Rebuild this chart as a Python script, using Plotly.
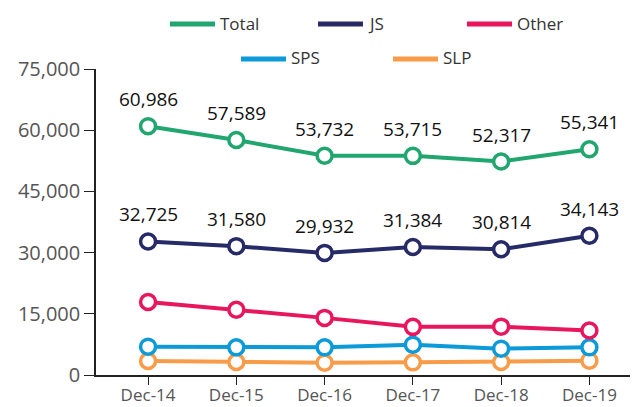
import plotly.graph_objects as go

# data
periods = ['Dec-14', 'Dec-15', 'Dec-16', 'Dec-17', 'Dec-18', 'Dec-19']
total = [60986, 57589, 53732, 53715, 52317, 55341]
js = [32725, 31580, 29932, 31384, 30814, 34143]
other = [17900, 16000, 14000, 11800, 11850, 10900]
sps = [6940, 6780, 6780, 7430, 6450, 6780]
slp = [3430, 3190, 3020, 3100, 3190, 3510]

series = [
    ('Total', total, '#21a66f'),
    ('JS', js, '#262a66'),
    ('Other', other, '#e8175d'),
    ('SPS', sps, '#0d9ad8'),
    ('SLP', slp, '#f89c4a'),
]

FONT = 'Open Sans'

fig = go.Figure()

# draw bottom series first so Total sits on top
for name, vals, color in reversed(series):
    fig.add_trace(go.Scatter(
        x=periods, y=vals, name=name, mode='lines+markers',
        line=dict(color=color, width=4),
        marker=dict(size=15, color='white', line=dict(color=color, width=3.5)),
        showlegend=False, hoverinfo='skip'))

# value labels for Total and JS
annotations = []
for vals in (total, js):
    for p, v in zip(periods, vals):
        annotations.append(dict(
            x=p, y=v, xref='x', yref='y', text=f'{v:,}', showarrow=False,
            yshift=27, font=dict(family=FONT, size=19, color='#111111')))

# hand-drawn legend (two rows, like the reference)
# plot area in window pixels: x 96..630, y 69..375
def px_x(px):
    return (px - 96) / 534

def px_y(py):
    return (375 - py) / 306

legend_items = [
    ('Total', '#21a66f', 170, 24),
    ('JS', '#262a66', 318, 24),
    ('Other', '#e8175d', 467, 24),
    ('SPS', '#0d9ad8', 241, 59),
    ('SLP', '#f89c4a', 393, 59),
]
shapes = []
for name, color, lx, ly in legend_items:
    shapes.append(dict(type='line', xref='paper', yref='paper',
                       x0=px_x(lx), x1=px_x(lx + 45), y0=px_y(ly), y1=px_y(ly),
                       line=dict(color=color, width=5)))
    annotations.append(dict(x=px_x(lx + 48), y=px_y(ly - 1), xref='paper', yref='paper',
                            text=name, showarrow=False, xanchor='left', yanchor='middle',
                            font=dict(family=FONT, size=17, color='#333333')))

# page body has an 8px margin: figure starts at (8, 8) in the window
fig.update_layout(
    width=632, height=399,
    margin=dict(l=88, r=10, t=61, b=32),
    paper_bgcolor='white', plot_bgcolor='white',
    font=dict(family=FONT),
    xaxis=dict(
        type='category', range=[-0.59, 5.46], automargin=False,
        showline=True, linecolor='#222222', linewidth=1.5,
        ticks='outside', ticklen=8, tickcolor='#222222', tickwidth=1.2,
        showgrid=False, zeroline=False, ticklabelstandoff=-4,
        tickfont=dict(family=FONT, size=17, color='#555555')),
    yaxis=dict(
        range=[0, 75000], tickvals=[0, 15000, 30000, 45000, 60000, 75000],
        tickformat=',', showline=True, linecolor='#222222', linewidth=1.5,
        ticks='outside', ticklen=10, tickcolor='#222222', tickwidth=1.2,
        showgrid=False, zeroline=False, automargin=False,
        tickfont=dict(family=FONT, size=20, color='#555555')),
    shapes=shapes,
    annotations=annotations,
)

fig.write_html('out.html')
